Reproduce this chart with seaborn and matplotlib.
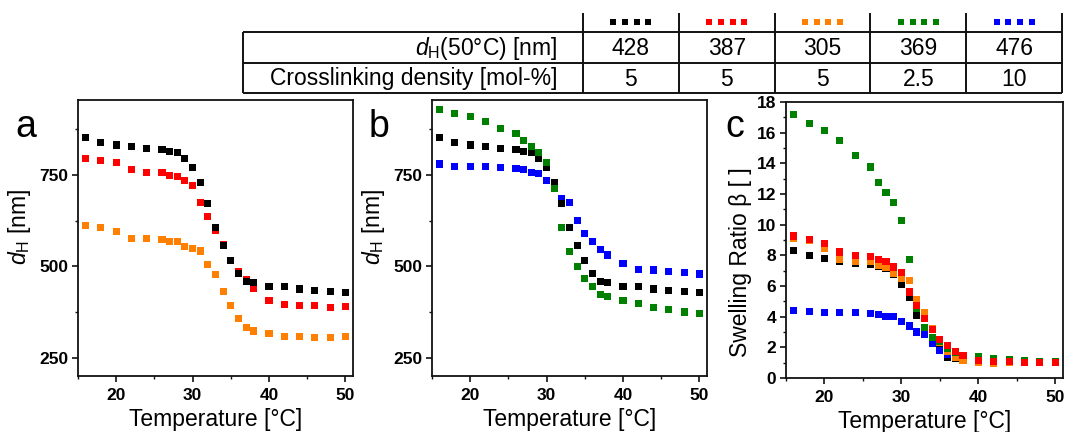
import numpy as np
import pandas as pd
import matplotlib
matplotlib.use("Agg")
import matplotlib.pyplot as plt
from matplotlib.ticker import MultipleLocator
import seaborn as sns

# ---- data ----
temps = [16, 18, 20, 22, 24, 26, 27, 28, 29, 30, 31, 32, 33, 34, 35, 36, 37, 38,
         40, 42, 44, 46, 48, 50]

d_black = [852, 839, 832, 827, 822, 820, 815, 811, 796, 770, 729, 672, 606, 556,
           517, 480, 459, 455, 446, 444, 438, 435, 431, 428]
d_red = [794, 790, 783, 764, 756, 757, 748, 746, 735, 721, 675, 637, 597, 560,
         517, 486, 464, 439, 407, 395, 394, 393, 388, 389]
d_orange = [612, 606, 595, 577, 575, 574, 569, 569, 555, 549, 542, 505, 477, 430,
            392, 357, 332, 323, 317, 308, 307, 305, 305, 308]
d_green = [929, 917, 910, 897, 878, 863, 843, 827, 811, 785, 712, 607, 540, 500,
           467, 445, 422, 418, 406, 399, 388, 381, 375, 372]
d_blue = [780, 774, 773, 773, 770, 768, 764, 757, 754, 736, 716, 686, 674, 626,
          590, 568, 546, 531, 507, 491, 490, 485, 482, 479]

beta_black = [8.33, 7.96, 7.78, 7.57, 7.46, 7.39, 7.30, 7.17, 6.74, 6.13, 5.24, 4.07,
              2.95, 2.35, 1.91, 1.37, 1.26, 1.15, 1.09, 1.05, 1.03, 1.02, 1.01, 1.00]
beta_red = [9.26, 9.02, 8.76, 8.22, 7.96, 7.93, 7.72, 7.57, 7.24, 6.91, 5.61, 4.74,
            3.87, 3.17, 2.50, 2.09, 1.74, 1.48, 1.15, 1.09, 1.07, 1.04, 1.00, 1.00]
beta_orange = [9.10, 8.95, 8.43, 7.74, 7.57, 7.57, 7.35, 7.24, 6.80, 6.52, 6.37, 5.13,
               4.26, 3.20, 2.30, 1.74, 1.37, 1.15, 1.04, 0.98, 0.99, 1.00, 1.00, 1.00]
beta_green = [17.2, 16.6, 16.15, 15.5, 14.5, 13.76, 12.74, 12.07, 11.46, 10.3, 7.72, 4.55,
              3.30, 2.67, 2.40, 1.95, 1.65, 1.45, 1.37, 1.30, 1.22, 1.15, 1.10, 1.05]
beta_blue = [4.41, 4.33, 4.30, 4.30, 4.26, 4.22, 4.15, 4.04, 4.00, 3.70, 3.39, 3.00,
             2.83, 2.26, 1.80, 1.55, 1.35, 1.20, 1.12, 1.08, 1.05, 1.03, 1.01, 1.00]

samples = ["black", "red", "orange", "green", "blue"]
dh_50 = ["428", "387", "305", "369", "476"]
crosslink = ["5", "5", "5", "2.5", "10"]
row_labels = [r"$d_{\mathrm{H}}$(50°C) [nm]", "Crosslinking density [mol-%]"]

palette = {"black": "#000000", "red": "#ff0000", "orange": "#ff8000",
           "green": "#008000", "blue": "#0000ff"}

d_data = {"black": d_black, "red": d_red, "orange": d_orange,
          "green": d_green, "blue": d_blue}
beta_data = {"black": beta_black, "red": beta_red, "orange": beta_orange,
             "green": beta_green, "blue": beta_blue}


def long_df(data, order, col):
    frames = [pd.DataFrame({"T": temps, col: data[k], "sample": k}) for k in order]
    return pd.concat(frames, ignore_index=True)


sns.set_theme(style="ticks")
plt.rcParams["font.family"] = ["Liberation Sans", "DejaVu Sans"]
plt.rcParams["mathtext.fontset"] = "custom"
plt.rcParams["mathtext.rm"] = "Liberation Sans"
plt.rcParams["mathtext.it"] = "Liberation Sans:italic"
plt.rcParams["mathtext.bf"] = "Liberation Sans:bold"
for key in ("text.color", "axes.labelcolor", "xtick.color", "ytick.color",
            "xtick.labelcolor", "ytick.labelcolor"):
    plt.rcParams[key] = "black"

W, H = 1065, 432
fig = plt.figure(figsize=(W / 100, H / 100), dpi=100)


def px_axes(left, top, right, bottom):
    return fig.add_axes([left / W, 1 - bottom / H, (right - left) / W, (bottom - top) / H])


def style_axes(ax):
    for sp in ax.spines.values():
        sp.set_visible(True)
        sp.set_linewidth(1.3)
        sp.set_color("#111111")
    ax.set_xlim(15, 51)
    ax.xaxis.set_major_locator(MultipleLocator(10))
    ax.xaxis.set_minor_locator(MultipleLocator(5))
    ax.tick_params(which="major", direction="out", length=4.5, width=1.2,
                   labelsize=12.5, color="#111111", labelcolor="black", pad=2.5)
    ax.tick_params(axis="x", which="major", pad=4)
    ax.tick_params(which="minor", direction="out", length=2.5, width=1.0, color="#111111")
    ax.tick_params(top=False, right=False, which="both")
    ax.set_xlabel("Temperature [°C]", fontsize=16.5, labelpad=4, color="black")


ax_a = px_axes(78, 100, 353, 376)
ax_b = px_axes(432, 100, 707, 376)
ax_c = px_axes(786, 102, 1063, 378)

panels = [
    (ax_a, d_data, ["red", "black", "orange"], "d"),
    (ax_b, d_data, ["blue", "black", "green"], "d"),
    (ax_c, beta_data, ["black", "blue", "orange", "green", "red"], "beta"),
]
for ax, data, order, col in panels:
    df = long_df(data, order, col)
    sns.scatterplot(data=df, x="T", y=col, hue="sample", palette=palette,
                    marker="s", s=26, linewidth=0, legend=False, ax=ax)

for ax in (ax_a, ax_b):
    ax.set_ylim(200, 955)
    ax.yaxis.set_major_locator(MultipleLocator(250))
    ax.yaxis.set_minor_locator(MultipleLocator(125))
    style_axes(ax)
    ax.set_ylabel(r"$d_{\mathrm{H}}$ [nm]", fontsize=16.5, color="black")
    ax.yaxis.set_label_coords(-0.165, 0.54)

ax_c.set_ylim(0, 18)
ax_c.yaxis.set_major_locator(MultipleLocator(2))
ax_c.yaxis.set_minor_locator(MultipleLocator(1))
style_axes(ax_c)
ax_c.set_ylabel("Swelling Ratio β [ ]", fontsize=16.5, color="black")
ax_c.yaxis.set_label_coords(-0.122, 0.42)

for letter, xpx in [("a", 15), ("b", 369), ("c", 725)]:
    fig.text(xpx / W, 1 - 137 / H, letter, fontsize=27, va="baseline", ha="left",
             color="black")

# ---- table on top ----
tab = fig.add_axes([0, 0, 1, 1], zorder=-1)
tab.set_xlim(0, W)
tab.set_ylim(H, 0)
tab.axis("off")

t_left, t_lab, t_right = 243, 583, 1062
col_edges = np.linspace(t_lab, t_right, len(samples) + 1)
row_edges = [13, 32, 63, 93]
lw = 1.4
tab.hlines(row_edges[1:], t_left, t_right, color="#111111", lw=lw)
tab.vlines([t_left], row_edges[1], row_edges[3], color="#111111", lw=lw)
tab.vlines(col_edges, row_edges[0], row_edges[3], color="#111111", lw=lw)

centers = (col_edges[:-1] + col_edges[1:]) / 2
for i, name in enumerate(samples):
    xs = centers[i] + np.array([-17.5, -5.8, 5.8, 17.5])
    tab.scatter(xs, np.full(4, 22), marker="s", s=24, color=palette[name], linewidths=0)
    tab.text(centers[i], (row_edges[1] + row_edges[2]) / 2 + 1, dh_50[i],
             ha="center", va="center", fontsize=16.5, color="black")
    tab.text(centers[i], (row_edges[2] + row_edges[3]) / 2 + 1, crosslink[i],
             ha="center", va="center", fontsize=16.5, color="black")
for r, lab in enumerate(row_labels):
    tab.text(t_lab - 25, (row_edges[r + 1] + row_edges[r + 2]) / 2 + 1, lab,
             ha="right", va="center", fontsize=16.5, color="black")

# bold tick labels (after the ticks exist)
fig.canvas.draw()
for ax in (ax_a, ax_b, ax_c):
    for lab in ax.get_xticklabels() + ax.get_yticklabels():
        lab.set_fontweight("bold")

fig.savefig("out.png", dpi=100)
